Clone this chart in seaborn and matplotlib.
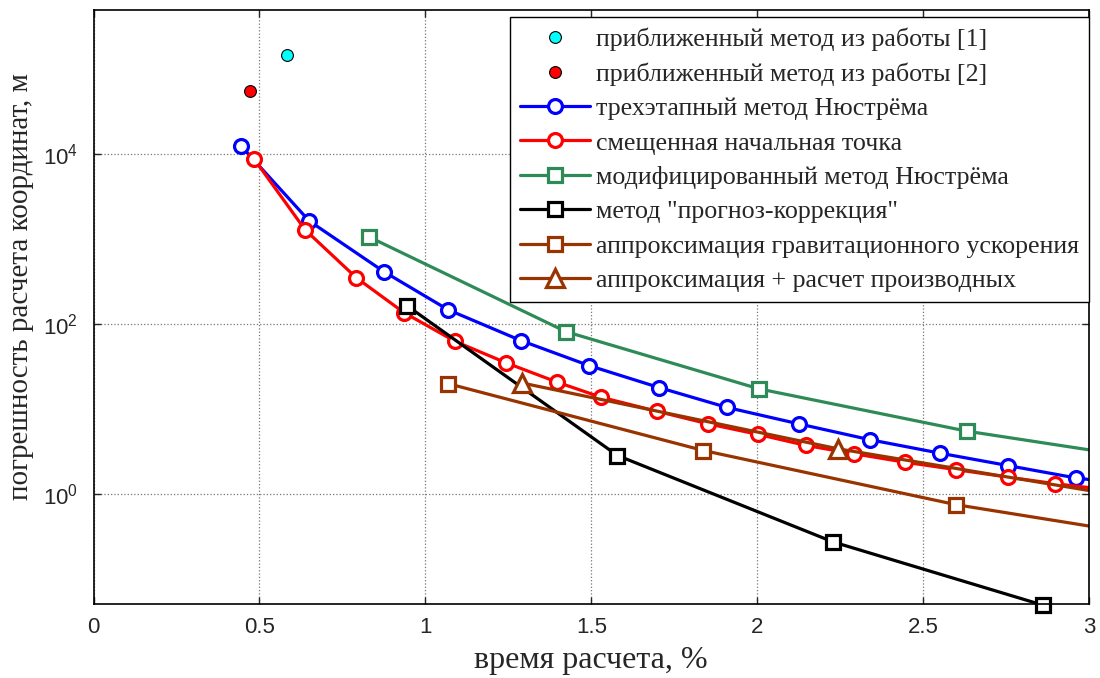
import numpy as np
import pandas as pd
import matplotlib
matplotlib.use("Agg")
import matplotlib.pyplot as plt
import matplotlib.ticker as mticker
import seaborn as sns

# --- data ---
p1_x = [0.583]
p1_y = [1.47e5]
p2_x = [0.472]
p2_y = [5.56e4]

blue_x = [0.445, 0.650, 0.876, 1.069, 1.289, 1.494, 1.705, 1.909, 2.125, 2.341, 2.552, 2.755, 2.962, 3.0]
blue_y = [12500, 1640, 412, 147, 63.6, 32.3, 17.8, 10.4, 6.66, 4.32, 3.0, 2.15, 1.53, 1.47]

red_x = [0.484, 0.638, 0.792, 0.936, 1.090, 1.244, 1.398, 1.530, 1.698, 1.852, 2.004, 2.148, 2.291,
         2.446, 2.600, 2.755, 2.899, 3.0]
red_y = [8810, 1286, 351, 136, 62.4, 34.8, 20.6, 13.7, 9.37, 6.66, 4.99, 3.70, 2.96,
         2.35, 1.92, 1.57, 1.31, 1.18]

green_x = [0.830, 1.424, 2.006, 2.633, 3.0]
green_y = [1064, 81.2, 17.2, 5.45, 3.29]

black_x = [0.945, 1.579, 2.229, 2.862]
black_y = [164, 2.82, 0.270, 0.0485]

brsq_x = [1.069, 1.838, 2.599, 3.0]
brsq_y = [19.8, 3.23, 0.743, 0.416]

brtr_x = [1.291, 2.244, 3.0]
brtr_y = [20.2, 3.38, 1.09]

labels = ["приближенный метод из работы [1]",
          "приближенный метод из работы [2]",
          "трехэтапный метод Нюстрёма",
          "смещенная начальная точка",
          "модифицированный метод Нюстрёма",
          "метод \"прогноз-коррекция\"",
          "аппроксимация гравитационного ускорения",
          "аппроксимация + расчет производных"]

brown = "#993300"

sns.set_style("ticks")
plt.rcParams["font.family"] = ["Liberation Serif", "DejaVu Serif"]
plt.rcParams["mathtext.fontset"] = "custom"
plt.rcParams["mathtext.rm"] = "Liberation Sans"
plt.rcParams["mathtext.it"] = "Liberation Sans"

fig = plt.figure(figsize=(11, 6.78), dpi=100)
ax = fig.add_axes([0.085, 0.109, 0.905, 0.876])

ax.plot(p1_x, p1_y, "o", color="cyan", mec="black", mew=0.8, ms=8.5, label=labels[0], zorder=5)
ax.plot(p2_x, p2_y, "o", color="red", mec="black", mew=0.8, ms=8.5, label=labels[1], zorder=5)

series = [
    (blue_x, blue_y, "blue", "o", 10, list(range(len(blue_x) - 1)), labels[2], True),
    (red_x, red_y, "red", "o", 10, list(range(len(red_x) - 1)), labels[3], True),
    (green_x, green_y, "#2E8B57", "s", 9.5, list(range(4)), labels[4], True),
    (black_x, black_y, "black", "s", 9.5, list(range(4)), labels[5], False),
    (brsq_x, brsq_y, brown, "s", 9.5, list(range(3)), labels[6], True),
    (brtr_x, brtr_y, brown, "^", 13, list(range(2)), labels[7], True),
]
for xs, ys, c, m, size, me, lab, clip in series:
    df = pd.DataFrame({"x": xs, "y": ys})
    sns.lineplot(data=df, x="x", y="y", ax=ax, color=c, marker=m, markevery=me,
                 mec=c, mfc="white", mew=2.3, ms=size, lw=2.3,
                 label=lab, clip_on=clip, sort=False)

ax.set_yscale("log")
ax.set_xlim(0, 3)
ax.set_ylim(0.05, 5e5)
ax.set_xticks([0, 0.5, 1, 1.5, 2, 2.5, 3])
ax.set_xticklabels(["0", "0.5", "1", "1.5", "2", "2.5", "3"])
ax.yaxis.set_major_locator(mticker.FixedLocator([1, 1e2, 1e4]))
ax.yaxis.set_major_formatter(mticker.FixedFormatter([r"$10^0$", r"$10^2$", r"$10^4$"]))
ax.yaxis.set_minor_locator(mticker.NullLocator())
ax.tick_params(direction="in", top=True, right=True, length=5, width=1, labelsize=16)
ax.tick_params(axis="x", pad=9)
ax.tick_params(axis="y", pad=11)
for t in ax.get_xticklabels() + ax.get_yticklabels():
    t.set_fontfamily("Liberation Sans")
ax.grid(True, color="#777777", linestyle=":", linewidth=0.9)
for s in ax.spines.values():
    s.set_color("black")
    s.set_linewidth(1.2)

ax.set_xlabel("время расчета, %", fontsize=23, labelpad=6)
ax.set_ylabel("погрешность расчета координат, м", fontsize=21)
ax.yaxis.set_label_coords(-0.06, 0.535)

leg = ax.legend(loc="upper right", bbox_to_anchor=(1.0, 0.988), borderaxespad=0,
                fontsize=18.7, frameon=True, fancybox=False, edgecolor="black",
                framealpha=1, handlelength=2.7, handletextpad=0.2,
                labelspacing=0.43, borderpad=0.4)
leg.get_frame().set_linewidth(1.0)

fig.savefig("out.png", dpi=100)
